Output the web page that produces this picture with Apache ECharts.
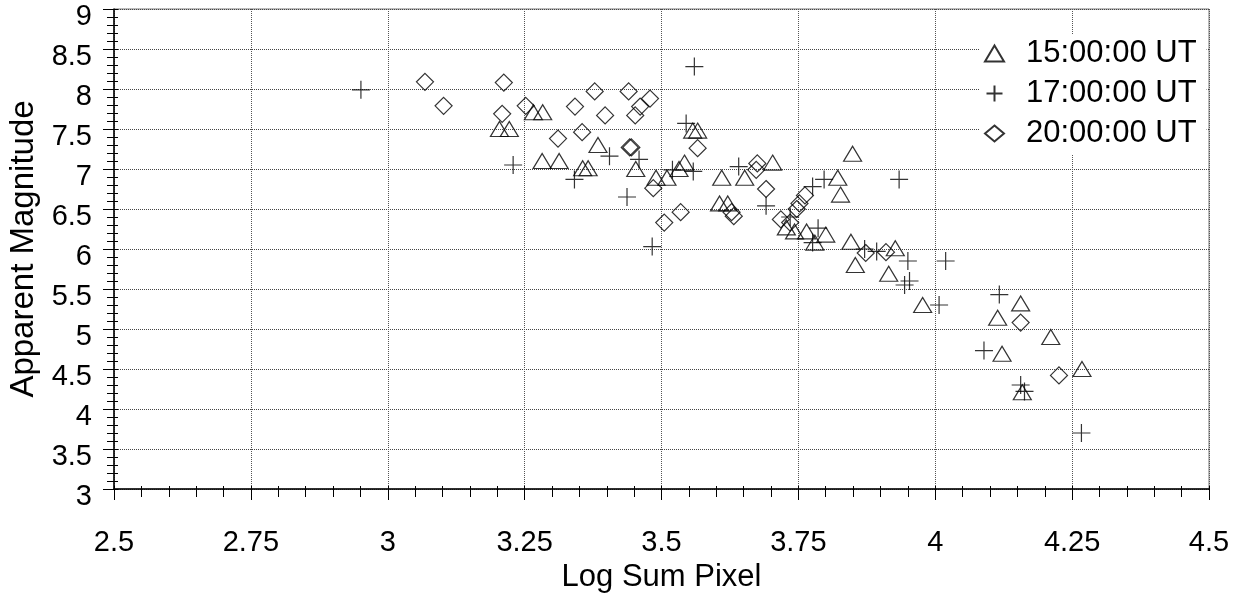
<!DOCTYPE html>
<html>
<head>
<meta charset="utf-8">
<script src="https://cdn.jsdelivr.net/npm/echarts@6/dist/echarts.min.js"></script>
<style>
html,body{margin:0;padding:0;background:#fff;}
#chart{width:1241px;height:594px;}
</style>
</head>
<body>
<div id="chart"></div>
<script>
// Series values [Log Sum Pixel, Apparent Magnitude]
const ut15 = [[3.204,7.50],[3.222,7.50],[3.266,7.71],[3.283,7.71],[3.282,7.10],[3.313,7.10],[3.356,7.01],[3.366,7.01],[3.384,7.30],[3.453,7.00],[3.490,6.89],[3.510,6.89],[3.532,7.00],[3.542,7.08],[3.557,7.48],[3.566,7.48],[3.610,6.89],[3.652,6.89],[3.703,7.08],[3.606,6.57],[3.621,6.57],[3.849,7.19],[3.822,6.89],[3.827,6.68],[3.728,6.27],[3.743,6.22],[3.765,6.22],[3.780,6.08],[3.800,6.18],[3.846,6.09],[3.854,5.80],[3.927,6.01],[3.915,5.69],[3.977,5.30],[4.156,5.32],[4.114,5.14],[4.211,4.90],[4.122,4.69],[4.268,4.50],[4.159,4.21]];
const ut17 = [[2.951,7.99],[3.229,7.05],[3.341,6.87],[3.405,7.16],[3.437,6.65],[3.459,7.12],[3.483,6.03],[3.545,7.57],[3.520,6.99],[3.558,6.97],[3.560,8.28],[3.641,7.03],[3.691,6.54],[3.735,6.40],[3.776,6.78],[3.797,6.87],[3.934,6.87],[3.786,6.26],[3.776,6.08],[3.871,6.00],[3.893,5.97],[3.950,5.85],[4.019,5.85],[3.953,5.60],[3.944,5.55],[4.007,5.30],[4.117,5.43],[4.089,4.73],[4.156,4.30],[4.163,4.22],[4.267,3.70]];
const ut20 = [[3.068,8.09],[3.102,7.79],[3.212,8.08],[3.209,7.69],[3.252,7.79],[3.311,7.38],[3.342,7.78],[3.378,7.97],[3.355,7.46],[3.397,7.67],[3.440,7.97],[3.479,7.88],[3.461,7.78],[3.452,7.67],[3.442,7.27],[3.445,7.27],[3.485,6.76],[3.505,6.33],[3.535,6.46],[3.566,7.26],[3.675,7.07],[3.673,6.99],[3.691,6.75],[3.628,6.46],[3.632,6.41],[3.762,6.67],[3.752,6.57],[3.747,6.50],[3.718,6.37],[3.735,6.33],[3.873,5.95],[3.910,5.96],[4.156,5.08],[4.226,4.42]];
const seriesNames = ['15:00:00 UT', '17:00:00 UT', '20:00:00 UT'];
const xRange = [2.5, 4.5, 0.25];
const yRange = [3, 9, 0.5];
const xTitle = 'Log Sum Pixel';
const yTitle = 'Apparent Magnitude';

const FONT = '"Liberation Sans", Arial, sans-serif';
const chart = echarts.init(document.getElementById('chart'), null, {renderer: 'canvas'});
const hollow = {color: 'rgba(0,0,0,0)', borderColor: '#000', borderWidth: 1.2};
const crossPath = 'path://M0,5L10,5M5,0L5,10';

const option = {
  animation: false,
  backgroundColor: '#fff',
  textStyle: {fontFamily: FONT},
  grid: {left: 114, right: 32, top: 9, bottom: 105, show: true, borderColor: '#777', borderWidth: 1,
    containLabel: false, outerBoundsMode: 'none'},
  legend: {
    orient: 'vertical', left: 980, top: 34,
    backgroundColor: '#fff', padding: [4, 10, 6, 4],
    itemWidth: 19, itemHeight: 16, itemGap: 9,
    textStyle: {fontSize: 31, color: '#000', fontFamily: FONT, padding: [0, 0, 0, 17]},
    data: seriesNames
  },
  xAxis: [{
    type: 'value', min: xRange[0], max: xRange[1], interval: xRange[2],
    name: xTitle, nameLocation: 'middle', nameGap: 73,
    nameTextStyle: {fontSize: 31, color: '#000', fontFamily: FONT},
    axisLine: {show: true, onZero: false, lineStyle: {color: '#000', width: 1.5}},
    axisTick: {show: true, length: 11, lineStyle: {color: '#000'}},
    minorTick: {show: true, splitNumber: 5, length: 8, lineStyle: {color: '#000'}},
    axisLabel: {fontSize: 29, color: '#000', margin: 39, fontFamily: FONT,
      formatter: v => String(+v.toFixed(2))},
    splitLine: {show: true, lineStyle: {color: '#555', type: 'dotted', width: 1}}
  }, {
    type: 'value', min: xRange[0], max: xRange[1], interval: xRange[2], position: 'bottom',
    axisLine: {show: false, onZero: false},
    axisTick: {show: true, inside: true, length: 3, lineStyle: {color: '#000'}},
    minorTick: {show: true, splitNumber: 5, length: 3, lineStyle: {color: '#000'}},
    axisLabel: {show: false}, splitLine: {show: false}
  }],
  yAxis: [{
    type: 'value', min: yRange[0], max: yRange[1], interval: yRange[2],
    name: yTitle, nameLocation: 'middle', nameGap: 60,
    nameTextStyle: {fontSize: 33, color: '#000', fontFamily: FONT},
    axisLine: {show: true, onZero: false, lineStyle: {color: '#000', width: 1.5}},
    axisTick: {show: true, length: 11, lineStyle: {color: '#000'}},
    minorTick: {show: true, splitNumber: 5, length: 7, lineStyle: {color: '#000'}},
    axisLabel: {fontSize: 29, color: '#000', margin: 22, fontFamily: FONT,
      verticalAlign: 'top', lineHeight: 15},
    splitLine: {show: true, lineStyle: {color: '#444', type: 'dotted', width: 1}}
  }, {
    type: 'value', min: yRange[0], max: yRange[1], interval: yRange[2], position: 'left',
    axisLine: {show: false, onZero: false},
    axisTick: {show: true, inside: true, length: 4, lineStyle: {color: '#000'}},
    minorTick: {show: true, splitNumber: 5, length: 4, lineStyle: {color: '#000'}},
    axisLabel: {show: false}, splitLine: {show: false}
  }],
  series: [
    {name: seriesNames[0], type: 'scatter', data: ut15, symbol: 'triangle', symbolSize: [18, 15], itemStyle: hollow, z: 3},
    {name: seriesNames[1], type: 'scatter', data: ut17, symbol: crossPath, symbolSize: [18, 18], itemStyle: hollow, z: 3},
    {name: seriesNames[2], type: 'scatter', data: ut20, symbol: 'diamond', symbolSize: [17, 17], itemStyle: hollow, z: 3}
  ]
};
chart.setOption(option);
</script>
</body>
</html>
